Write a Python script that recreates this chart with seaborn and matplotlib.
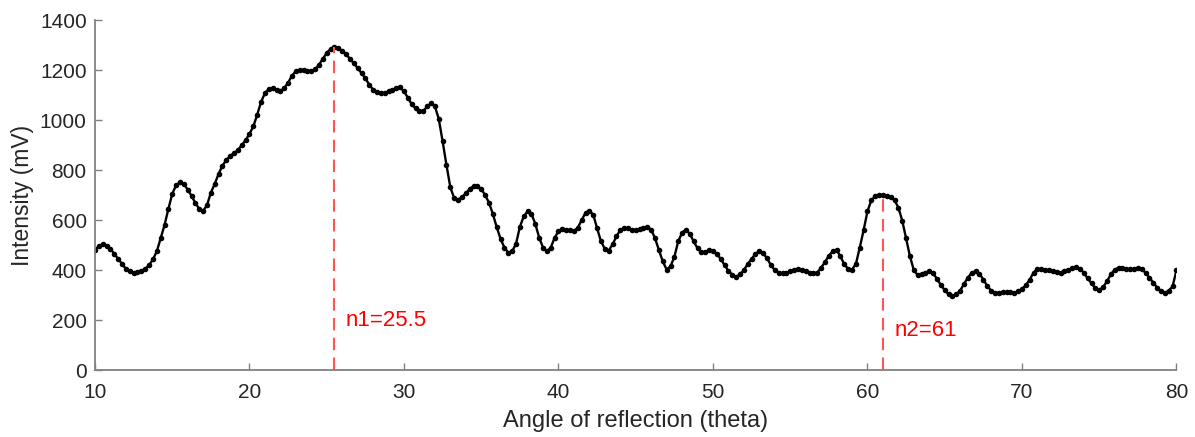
import matplotlib
matplotlib.use("Agg")
import matplotlib.pyplot as plt
import seaborn as sns
import numpy as np
import pandas as pd

# Intensity readings, one every 0.25 degrees from 10 to 80
intensity = [
    480, 497, 503, 498, 485, 465, 445, 425, 405, 395, 390, 392, 398, 405, 420, 443,   # 10.00 - 13.75
    475, 527, 580, 645, 705, 740, 751, 745, 722, 697, 668, 645, 637, 660, 710, 745,   # 14.00 - 17.75
    785, 818, 840, 857, 868, 880, 900, 920, 945, 975, 1022, 1073, 1108, 1125, 1127, 1120,  # 18.00 - 21.75
    1116, 1128, 1150, 1178, 1195, 1200, 1200, 1197, 1195, 1203, 1222, 1245, 1269, 1285, 1293, 1288,  # 22.00 - 25.75
    1277, 1264, 1245, 1228, 1208, 1188, 1167, 1142, 1122, 1113, 1108, 1110, 1115, 1121, 1128, 1131,  # 26.00 - 29.75
    1115, 1090, 1063, 1047, 1038, 1035, 1055, 1067, 1055, 1005, 915, 820, 731, 688, 682, 692,  # 30.00 - 33.75
    707, 725, 736, 735, 725, 700, 670, 625, 572, 525, 490, 470, 475, 505, 573, 615,   # 34.00 - 37.75
    635, 625, 585, 530, 490, 475, 490, 530, 555, 565, 562, 560, 556, 570, 600, 630,   # 38.00 - 41.75
    637, 622, 567, 515, 485, 478, 503, 535, 560, 568, 567, 562, 560, 565, 570, 573,   # 42.00 - 45.75
    562, 527, 480, 435, 402, 415, 453, 515, 550, 562, 545, 515, 487, 472, 473, 479,   # 46.00 - 49.75
    478, 465, 445, 420, 397, 382, 374, 383, 400, 425, 445, 465, 476, 467, 447, 420,   # 50.00 - 53.75
    400, 390, 387, 390, 395, 401, 404, 400, 395, 390, 387, 390, 410, 432, 458, 475,   # 54.00 - 57.75
    480, 455, 423, 405, 402, 425, 490, 560, 635, 680, 695, 699, 700, 697, 691, 680,   # 58.00 - 61.75
    650, 598, 527, 455, 400, 380, 383, 390, 397, 387, 365, 340, 320, 303, 297, 303,   # 62.00 - 65.75
    318, 345, 370, 390, 395, 386, 362, 337, 318, 308, 310, 312, 313, 311, 309, 315,   # 66.00 - 69.75
    325, 340, 362, 390, 405, 405, 402, 399, 396, 392, 390, 395, 400, 407, 412, 405,   # 70.00 - 73.75
    390, 367, 347, 327, 320, 332, 355, 383, 402, 410, 407, 404, 403, 405, 407, 403,   # 74.00 - 77.75
    390, 370, 350, 330, 315, 309, 318, 335, 400,                                      # 78.00 - 80.00
]
angle = np.linspace(10, 80, len(intensity))

peak_angles = [25.5, 61]
peak_heights = [1293, 700]
peak_labels = ["n1=25.5", "n2=61"]
label_heights = [200, 160]

df = pd.DataFrame({"angle": angle, "intensity": intensity})

sns.set_theme(style="ticks")
plt.rcParams["font.family"] = ["Liberation Sans", "DejaVu Sans"]

fig = plt.figure(figsize=(11.95, 4.37), dpi=100)
ax = fig.add_axes([0.0795, 0.153, 0.905, 0.801])

sns.lineplot(data=df, x="angle", y="intensity", color="black", linewidth=1.7,
             marker="o", markersize=4, markeredgewidth=0, ax=ax)

# dashed markers for the two peaks
for xp, h, lab, ly in zip(peak_angles, peak_heights, peak_labels, label_heights):
    ax.plot([xp, xp], [0, h], color="#ff5555", linestyle=(0, (6, 3.5)), linewidth=1.5)
    ax.text(xp + 0.75, ly, lab, color="#ff0000", fontsize=16, va="center", ha="left")

ax.set_xlim(10, 80)
ax.set_ylim(0, 1400)
ax.set_xticks(range(10, 81, 10))
ax.set_yticks(range(0, 1401, 200))
ax.set_xlabel("Angle of reflection (theta)", fontsize=17, color="#262626", labelpad=6)
ax.set_ylabel("Intensity (mV)", fontsize=16.5, color="#262626", labelpad=4)

sns.despine(ax=ax)
for side in ["left", "bottom"]:
    ax.spines[side].set_color("#808080")
    ax.spines[side].set_linewidth(1.3)
ax.tick_params(direction="in", length=5, width=1, color="#808080",
               labelsize=15, labelcolor="#262626")
ax.tick_params(axis="x", pad=9)
ax.tick_params(axis="y", pad=6)

fig.savefig("out.png", dpi=100)
plt.close(fig)
